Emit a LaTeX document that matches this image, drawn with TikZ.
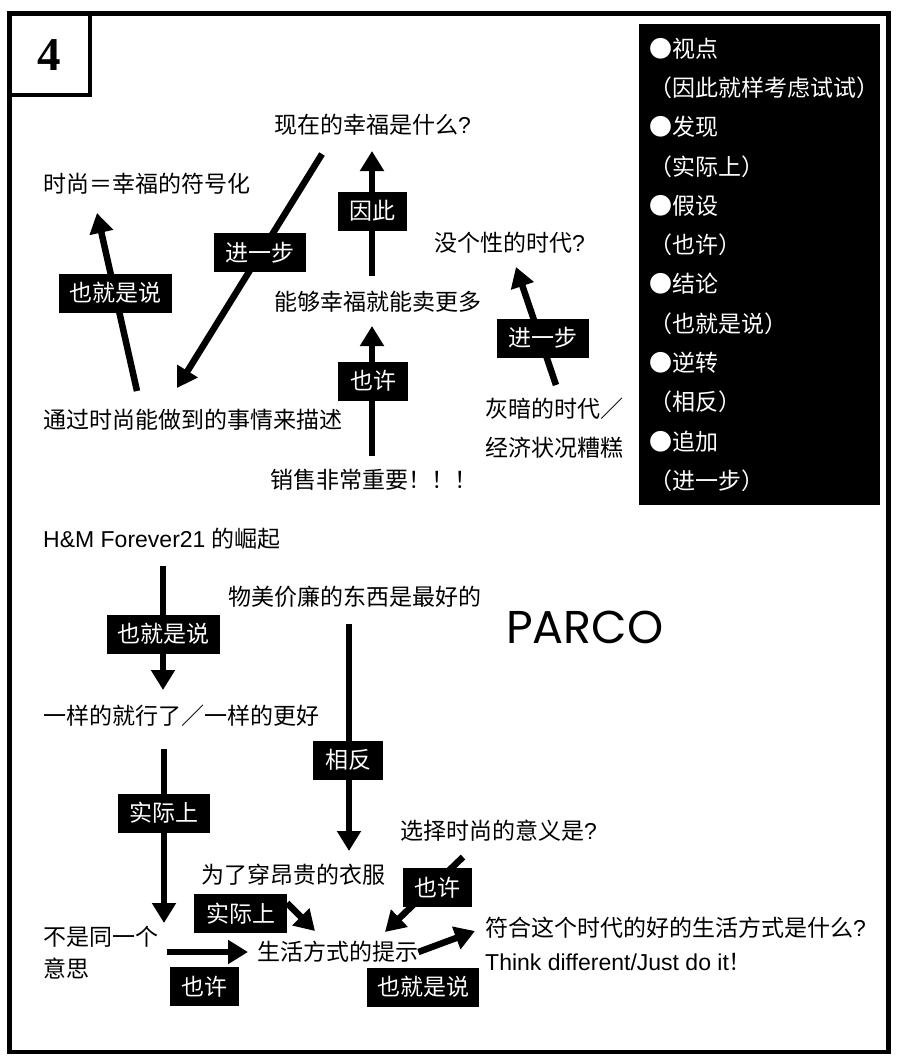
\documentclass[tikz,border=0pt]{standalone}
\usepackage{fontspec}
\setmainfont{Liberation Sans}
\newfontfamily\cjk{Noto Sans CJK SC}
\newcommand{\lat}[1]{{\normalfont #1}}
\usetikzlibrary{arrows.meta}
\tikzset{
  txt/.style = {anchor = west, inner sep = 0pt, text height = 20pt, text depth = 3pt,
    font = \cjk\fontsize{23}{23}\selectfont},
  tag/.style = {fill = black, text = white, inner sep = 0pt, minimum height = 39pt,
    text height = 20pt, text depth = 3pt, font = \cjk\fontsize{23}{23}\selectfont},
  flow/.style = {line width = 6.5pt, -{Triangle[width = 23pt, length = 20pt]}},
}
\begin{document}
\begin{tikzpicture}[x=1pt, y=-1pt]
      \useasboundingbox (0, 0) rectangle (900, 1063);
      \draw [line width = 4.5pt] (9.5, 13.5) rectangle (888.5, 1052);
      \draw [line width = 4pt] (9.5, 95) -- (90, 95) -- (90, 13.5);
      \node (num) at (49, 55) {\fontsize{47}{47}\selectfont\fontspec{Liberation Serif}\bfseries 4};
      \node (panel) [anchor = north west, fill = black, text = white, inner xsep = 10pt, inner ysep = 0pt,
        minimum height = 481pt, text width = 221pt, align = left,
        font = \cjk\fontsize{23}{39.3}\selectfont] at (639, 24) {●视点\\（因此就样考虑试试）\kern-9pt\\●发现\\（实际上）\\●假设\\（也许）\\●结论\\（也就是说）\\●逆转\\（相反）\\●追加\\（进一步）};
      % upper part
      \node (now) [txt] at (274, 125) {现在的幸福是什么\lat{?}};
      \node (sign) [txt] at (43, 184) {时尚＝幸福的符号化};
      \node (plain) [txt] at (434, 243) {没个性的时代\lat{?}};
      \node (happy) [txt] at (274, 302) {能够幸福就能卖更多};
      \node (desc) [txt] at (43, 420) {通过时尚能做到的事情来描述};
      \node (dark) [txt] at (485, 409) {灰暗的时代／};
      \node (econ) [txt] at (485, 448) {经济状况糟糕};
      \node (sales) [txt] at (270, 480) {销售非常重要！！！};
      \draw [flow] ([shift = {(94, -29)}]desc.west) -- ([shift = {(54, 29)}]sign.west);
      \draw [flow] ([shift = {(48, 29)}]now.west) -- ([shift = {(134, -32)}]desc.west);
      \draw [flow] ([shift = {(98, -26)}]happy.west) -- ([shift = {(98, 26)}]now.west);
      \draw [flow] ([shift = {(102, -24)}]sales.west) -- ([shift = {(98, 24)}]happy.west);
      \draw [flow] ([shift = {(71, -24)}]dark.west) -- ([shift = {(82, 24)}]plain.west);
      \node (also1) [tag, minimum width = 113pt] at (115.5, 293) {也就是说};
      \node (more1) [tag, minimum width = 92pt] at (260, 252.5) {进一步};
      \node (thus) [tag, minimum width = 69pt] at (372.5, 211) {因此};
      \node (may1) [tag, minimum width = 70pt] at (373, 381) {也许};
      \node (more2) [tag, minimum width = 92pt] at (543, 338) {进一步};
      % lower part
      \node (hm) [txt] at (43, 539) {\lat{H\&M Forever21 }的崛起};
      \node (cheap) [txt] at (228, 597) {物美价廉的东西是最好的};
      \node (parco) [anchor = west, inner sep = 0pt, font = \fontsize{46}{46}\selectfont\fontspec{Poppins}] at (506, 627) {PARCO};
      \node (same) [txt] at (43, 716) {一样的就行了／一样的更好};
      \node (why) [txt] at (400, 831) {选择时尚的意义是\lat{?}};
      \node (dear) [txt] at (201, 875) {为了穿昂贵的衣服};
      \node (diff1) [txt] at (43, 937) {不是同一个};
      \node (diff2) [txt] at (43, 969) {意思};
      \node (life) [txt] at (257, 952) {生活方式的提示};
      \node (good) [txt] at (485, 928) {符合这个时代的好的生活方式是什么\lat{?}};
      \node (just) [txt] at (485, 962) {\lat{Think different/Just do it}！};
      \draw [flow] ([shift = {(120, 27)}]hm.west) -- ([shift = {(120, -26)}]same.west);
      \draw [flow] ([shift = {(121, 33)}]same.west) -- ([shift = {(121, -14)}]diff1.west);
      \draw [flow] ([shift = {(121, 27)}]cheap.west) -- ([shift = {(148, -24)}]dear.west);
      \draw [flow] ([shift = {(124, 15)}]diff1.west) -- ([shift = {(-9, 0)}]life.west);
      \draw [flow] ([shift = {(86, 28)}]dear.west) -- ([shift = {(58, -21)}]life.west);
      \draw [flow] ([shift = {(63, 26)}]why.west) -- ([shift = {(128, -20)}]life.west);
      \draw [flow] (life.east) -- ([shift = {(-10, 3)}]good.west);
      \node (also2) [tag, minimum width = 113pt] at (163, 634) {也就是说};
      \node (rev) [tag, minimum width = 70pt] at (348, 760) {相反};
      \node (real1) [tag, minimum width = 92pt] at (164, 813) {实际上};
      \node (real2) [tag, minimum width = 93pt] at (240.5, 913.5) {实际上};
      \node (may2) [tag, minimum width = 69pt] at (437.5, 887.5) {也许};
      \node (may3) [tag, minimum width = 69pt] at (204.5, 986.5) {也许};
      \node (also3) [tag, minimum width = 112pt] at (423, 987) {也就是说};
\end{tikzpicture}
\end{document}
